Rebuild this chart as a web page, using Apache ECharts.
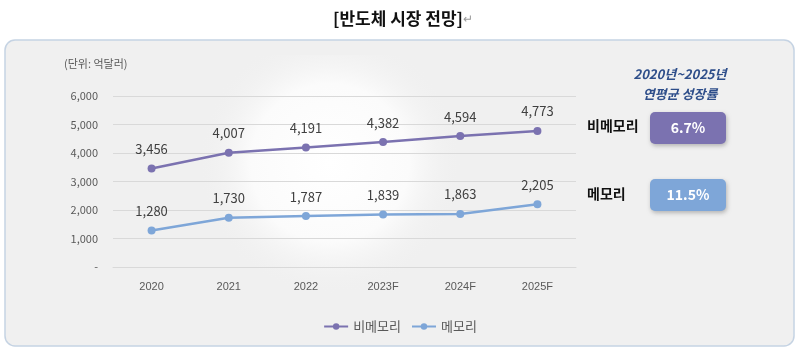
<!DOCTYPE html>
<html>
<head>
<meta charset="utf-8">
<script src="https://cdn.jsdelivr.net/npm/echarts@6/dist/echarts.min.js"></script>
<style>
  html, body { margin: 0; padding: 0; background: #fff; }
  #main { width: 800px; height: 352px; }
</style>
</head>
<body>
<div id="main"></div>
<script>
// data
var years = ['2020', '2021', '2022', '2023F', '2024F', '2025F'];
var nonMemory = [3456, 4007, 4191, 4382, 4594, 4773];
var memory = [1280, 1730, 1787, 1839, 1863, 2205];
var yTicks = ['-', '1,000', '2,000', '3,000', '4,000', '5,000', '6,000'];
var cagrNames = ['비메모리', '메모리'];
var cagrValues = ['6.7%', '11.5%'];

var font = '"Malgun Gothic", "Noto Sans CJK KR", sans-serif';
var purple = '#7b72b0';
var blue = '#7ea6d8';

var myChart = echarts.init(document.getElementById('main'));

function fmt(v) {
    return v.toLocaleString('en-US');
}

var option = {
    backgroundColor: '#ffffff',
    textStyle: { fontFamily: font },
    animation: false,
    grid: { left: 113, right: 224, top: 96, bottom: 85 },
    xAxis: {
        type: 'category',
        data: years,
        axisLine: { show: true, lineStyle: { color: '#d9d9d9' } },
        axisTick: { show: false },
        axisLabel: { color: '#595959', fontSize: 11, margin: 14, fontFamily: 'Arial, sans-serif' }
    },
    yAxis: {
        type: 'value',
        min: 0,
        max: 6000,
        interval: 1000,
        axisLine: { show: false },
        axisTick: { show: false },
        splitLine: { lineStyle: { color: '#d9d9d9' } },
        axisLabel: {
            color: '#595959', fontSize: 11, margin: 15,
            formatter: function (v) { return yTicks[v / 1000]; }
        }
    },
    legend: {
        bottom: 14,
        left: 'center',
        itemWidth: 24,
        itemHeight: 8,
        itemGap: 10,
        textStyle: { color: '#595959', fontSize: 13 },
        data: ['비메모리', '메모리']
    },
    graphic: [
        // outer panel
        { type: 'rect', z: -10, shape: { x: 5, y: 40, width: 789, height: 306, r: 10 },
          style: { fill: '#f0f0f0', stroke: '#c5d3e3', lineWidth: 1.5 } },
        // soft glow behind plot
        { type: 'rect', z: -9, shape: { x: 60, y: 55, width: 540, height: 240 },
          style: { fill: { type: 'radial', x: 0.5, y: 0.45, r: 0.55,
              colorStops: [{ offset: 0, color: '#ffffff' }, { offset: 0.6, color: '#fbfbfb' }, { offset: 1, color: 'rgba(240,240,240,0)' }] } } },
        // title
        { type: 'text', x: 333, y: 10,
          style: { text: '[반도체 시장 전망]{r|↵}', font: 'bold 17px ' + font, fill: '#111',
                   rich: { r: { font: '12px ' + font, fill: '#999', color: '#999' } } } },
        // unit
        { type: 'text', left: 64, top: 58,
          style: { text: '(단위: 억달러)', font: '11px ' + font, fill: '#595959' } },
        // CAGR header
        { type: 'text', x: 680, y: 64,
          style: { text: '2020년~2025년\n연평균 성장률', font: 'italic bold 13px ' + font, fill: '#2e4e8a',
                   align: 'center', lineHeight: 20 } },
        { type: 'text', left: 587, top: 119,
          style: { text: cagrNames[0], font: 'bold 14px ' + font, fill: '#111' } },
        { type: 'rect', shape: { x: 650, y: 112, width: 76, height: 32, r: 5 },
          style: { fill: purple, shadowBlur: 4, shadowColor: 'rgba(0,0,0,0.25)', shadowOffsetX: 1, shadowOffsetY: 2 } },
        { type: 'text', x: 688, y: 128,
          style: { text: cagrValues[0], font: 'bold 14px ' + font, fill: '#fff', align: 'center', verticalAlign: 'middle' } },
        { type: 'text', left: 587, top: 187,
          style: { text: cagrNames[1], font: 'bold 14px ' + font, fill: '#111' } },
        { type: 'rect', shape: { x: 650, y: 179, width: 76, height: 32, r: 5 },
          style: { fill: blue, shadowBlur: 4, shadowColor: 'rgba(0,0,0,0.25)', shadowOffsetX: 1, shadowOffsetY: 2 } },
        { type: 'text', x: 688, y: 195,
          style: { text: cagrValues[1], font: 'bold 14px ' + font, fill: '#fff', align: 'center', verticalAlign: 'middle' } }
    ],
    series: [
        {
            name: '비메모리',
            type: 'line',
            data: nonMemory,
            symbol: 'circle',
            symbolSize: 8,
            color: purple,
            lineStyle: { width: 2.5, color: purple },
            label: { show: true, position: 'top', distance: 9, color: '#404040', fontSize: 13,
                     formatter: function (p) { return fmt(p.value); } }
        },
        {
            name: '메모리',
            type: 'line',
            data: memory,
            symbol: 'circle',
            symbolSize: 8,
            color: blue,
            lineStyle: { width: 2.5, color: blue },
            label: { show: true, position: 'top', distance: 9, color: '#404040', fontSize: 13,
                     formatter: function (p) { return fmt(p.value); } }
        }
    ]
};

myChart.setOption(option);
</script>
</body>
</html>
